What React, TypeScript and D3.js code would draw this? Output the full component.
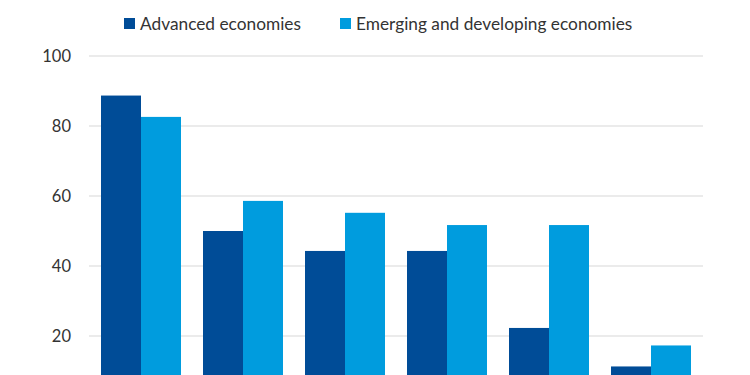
import React from "react";
import * as d3 from "d3";

const categories = ["Group 1", "Group 2", "Group 3", "Group 4", "Group 5", "Group 6"];
const seriesNames = ["Advanced economies", "Emerging and developing economies"];
const advanced = [88.7, 50.0, 44.3, 44.3, 22.3, 11.3];
const emerging = [82.6, 58.6, 55.2, 51.7, 51.7, 17.3];
const yTicks = [20, 40, 60, 80, 100];
const colors = ["#004C97", "#009CDE"];

const W = 750;
const H = 375;
const FONT = "Lato, 'Open Sans', sans-serif";

export default function App() {
  const x = d3
    .scaleBand<string>()
    .domain(categories)
    .range([90, 702])
    .paddingInner(22 / 102)
    .paddingOuter(11 / 102);
  const x1 = d3.scaleBand<string>().domain(seriesNames).range([0, x.bandwidth()]);
  const y = d3.scaleLinear().domain([0, 100]).range([406, 56]);
  const series = [advanced, emerging];

  const legendItems = [
    { name: seriesNames[0], sx: 124, tx: 140 },
    { name: seriesNames[1], sx: 340, tx: 356 },
  ];

  return (
    <svg
      width={W}
      height={H}
      style={{ position: "absolute", left: 0, top: 0, display: "block", background: "#fff" }}
    >
      {yTicks.map((t) => (
        <g key={t}>
          <line x1={89} x2={703} y1={y(t)} y2={y(t)} stroke="#e5e5e5" strokeWidth={1.3} />
          <text
            x={71}
            y={y(t)}
            dy="0.35em"
            textAnchor="end"
            fontFamily={FONT}
            fontSize={16.5}
            fill="#333"
          >
            {t}
          </text>
        </g>
      ))}
      {categories.map((c, i) => (
        <g key={c} transform={`translate(${x(c)},0)`}>
          {series.map((s, j) => (
            <rect
              key={j}
              x={x1(seriesNames[j])}
              y={y(s[i])}
              width={x1.bandwidth()}
              height={y(0) - y(s[i])}
              fill={colors[j]}
            />
          ))}
        </g>
      ))}
      {legendItems.map((l, i) => (
        <g key={l.name}>
          <rect x={l.sx} y={18} width={11} height={11} fill={colors[i]} />
          <text x={l.tx} y={23.5} dy="0.35em" fontFamily={FONT} fontSize={17.3} fill="#333">
            {l.name}
          </text>
        </g>
      ))}
    </svg>
  );
}
